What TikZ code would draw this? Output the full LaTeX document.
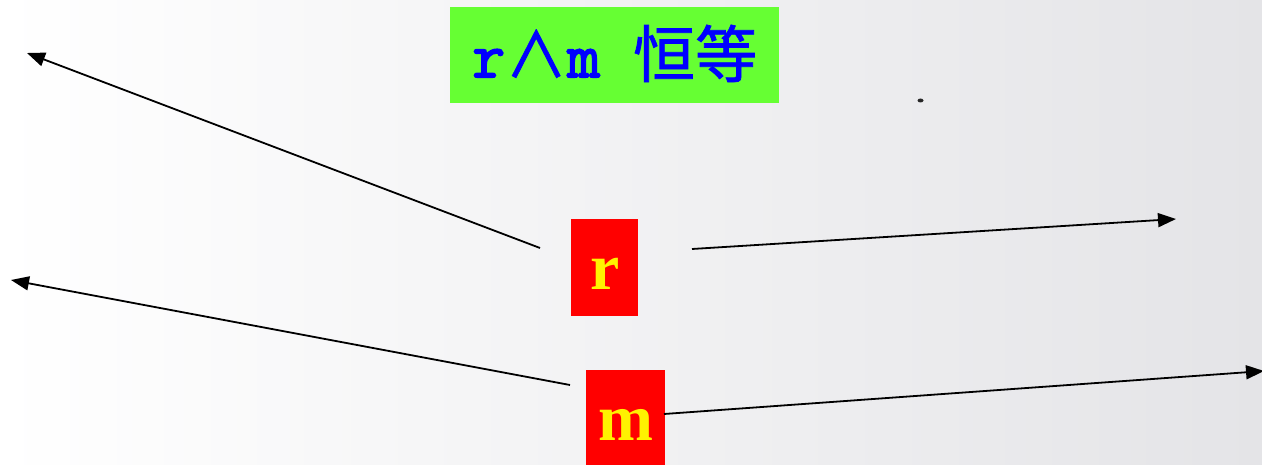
\documentclass[tikz,border=0pt]{standalone}
\usepackage{fontspec}
\usetikzlibrary{arrows.meta}
\newfontfamily\cjkf{Noto Sans CJK SC}[FakeBold=1.2]
\newfontfamily\monof{Latin Modern Mono}[FakeBold=2.5]
\newfontfamily\serifb{Liberation Serif}[BoldFont={Liberation Serif Bold}]
\definecolor{titlegreen}{HTML}{66FF33}
\definecolor{bgright}{HTML}{E4E4E7}
\tikzset{
  titlebox/.style={fill=titlegreen, inner sep=0pt, text=blue, align=center},
  varbox/.style={fill=red, inner sep=0pt, text=yellow, font=\serifb\bfseries\fontsize{66}{66}\selectfont},
  arr/.style={line width=1.8pt, -{Triangle[length=18pt,width=14pt]}}
}
\begin{document}
\begin{tikzpicture}[x=1pt,y=-1pt]
\shade[left color=white, right color=bgright] (0,0) rectangle (1262,465);
\useasboundingbox (0,0) rectangle (1262,465);
\node[titlebox, anchor=north west, minimum width=329pt, text height=70pt, text depth=26pt] (title) at (450,7)
  {{\monof\fontsize{64}{64}\selectfont r}{\cjkf\fontsize{62}{62}\selectfont ∧}{\monof\fontsize{64}{64}\selectfont m }{\cjkf\fontsize{62}{62}\selectfont 恒等}};
\node[varbox, anchor=north west, minimum width=67pt, text height=70pt, text depth=27pt] (r) at (571,219) {r};
\node[varbox, anchor=north west, minimum width=79pt, text height=70pt, text depth=25pt] (m) at (586,370) {m};
\coordinate (r1s) at (540,248);
\coordinate (r1e) at (27,53);
\coordinate (r2s) at (692,249);
\coordinate (r2e) at (1176,219);
\coordinate (m1s) at (570,385);
\coordinate (m1e) at (11,280);
\coordinate (m2s) at (664,414);
\coordinate (m2e) at (1264,371);
\draw[arr] (r1s) -- (r1e);
\draw[arr] (r2s) -- (r2e);
\draw[arr] (m1s) -- (m1e);
\draw[arr] (m2s) -- (m2e);
\fill[black!85] (920.5,100.5) ellipse (3pt and 2pt);
\end{tikzpicture}
\end{document}
